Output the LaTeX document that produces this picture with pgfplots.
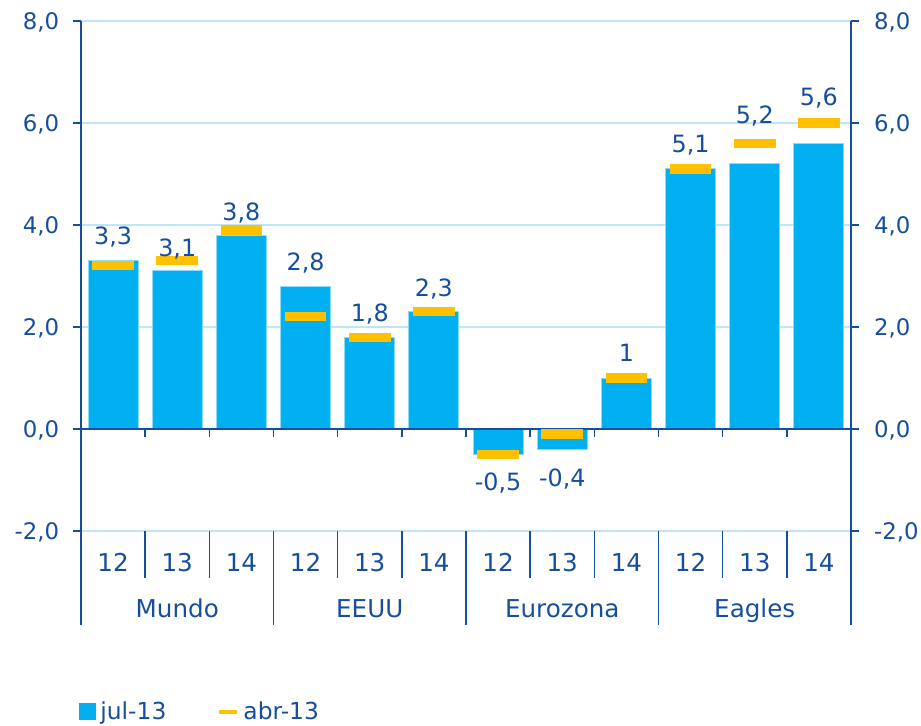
\documentclass[border=0pt]{standalone}
\usepackage{fontspec}
\setmainfont{DejaVu Sans}
\usepackage{pgfplots}
\usepackage{pgfplotstable}
\pgfplotsset{compat=1.18}
\definecolor{dblue}{RGB}{22,78,158}
\definecolor{barblue}{RGB}{0,176,240}
\definecolor{gold}{RGB}{255,192,0}
\definecolor{gridblue}{RGB}{190,230,248}

\pgfplotstableread{
x jul abr
0 3.3 3.2
1 3.1 3.3
2 3.8 3.9
3 2.8 2.2
4 1.8 1.8
5 2.3 2.3
6 -0.5 -0.5
7 -0.4 -0.1
8 1.0 1.0
9 5.1 5.1
10 5.2 5.6
11 5.6 6.0
}\datatable

\pgfplotstableread{
x ypos label
0 3.80 3,3
1 3.56 3,1
2 4.26 3,8
3 3.28 2,8
4 2.29 1,8
5 2.77 2,3
6 -1.04 -0,5
7 -0.95 -0,4
8 1.50 1
9 5.59 5,1
10 6.17 5,2
11 6.52 5,6
}\labeltable

\pgfplotsset{
  common/.style={
    at={(0,0)}, anchor=south west,
    width=385pt, height=255pt, scale only axis,
    xmin=-0.5, xmax=11.5, ymin=-2, ymax=8,
    ytick={-2,0,2,4,6,8},
    axis line style={draw=none},
    tick align=outside,
    major tick length=4pt,
    ytick style={dblue, line width=0.75pt},
    yticklabel style={font=\fontsize{11.4}{13}\selectfont, text=dblue, text depth=0pt},
    /pgf/number format/assume math mode=true,
    /pgf/number format/.cd, fixed, fixed zerofill, precision=1, use comma,
  },
}

\begin{document}
\begin{tikzpicture}
\useasboundingbox (-40.5pt,-97pt) rectangle (420pt,265.5pt);

\begin{axis}[
  common,
  clip=false,
  ytick pos=left,
  yticklabel style={xshift=-3.4pt},
  ymajorgrids,
  grid style={gridblue, line width=1pt},
  xtick={0,...,11},
  xticklabels={12,13,14,12,13,14,12,13,14,12,13,14},
  xtick style={draw=none},
  xtick pos=bottom,
  xticklabel style={font=\fontsize{12.3}{14}\selectfont, text=dblue, anchor=base, yshift=-16.2pt},
  legend columns=2,
  legend style={at={(0,0)}, anchor=south west, xshift=-1pt, yshift=-97.8pt,
    draw=none, fill=none, inner sep=0pt,
    font=\fontsize{11.7}{14}\selectfont, text=dblue,
    /tikz/every even column/.append style={column sep=23.5pt}},
]
\addplot[ybar, bar width=25pt, fill=barblue, draw=barblue!45!white, line width=0.5pt,
  legend image code/.code={\fill[barblue] (0pt,-4pt) rectangle (8pt,4pt);}]
  table[x=x, y=jul] {\datatable};
\addlegendentry{jul-13}
\addplot[only marks, mark=-, mark size=10.4pt, mark options={gold, line width=4.65pt},
  legend image code/.code={\draw[gold, line width=2pt] (1pt,-0.3pt) -- (10pt,-0.3pt);}]
  table[x=x, y=abr] {\datatable};
\addlegendentry{abr-13}

% zero line with small ticks
\draw[dblue, line width=0.85pt] (axis cs:-0.5,0) -- (axis cs:11.5,0);
\pgfplotsinvokeforeach{0.5,1.5,2.5,3.5,4.5,5.5,6.5,7.5,8.5,9.5,10.5}{
  \draw[dblue, line width=0.75pt] (axis cs:#1,0) -- ([yshift=-4pt]axis cs:#1,0);
  \draw[dblue, line width=0.7pt] (axis cs:#1,-2) -- ([yshift=-23.5pt]axis cs:#1,-2);
}
\pgfplotsinvokeforeach{2.5,5.5,8.5}{
  \draw[dblue, line width=0.7pt] (axis cs:#1,-2) -- ([yshift=-47pt]axis cs:#1,-2);
}
\draw[dblue, line width=1.35pt] (axis cs:-0.5,8) -- ([yshift=-47pt]axis cs:-0.5,-2);
\draw[dblue, line width=1.35pt] (axis cs:11.5,8) -- ([yshift=-47pt]axis cs:11.5,-2);

\node[text=dblue, font=\fontsize{12.3}{14}\selectfont, anchor=base] at ([yshift=-43.4pt]axis cs:1,-2) {Mundo};
\node[text=dblue, font=\fontsize{12.3}{14}\selectfont, anchor=base] at ([yshift=-43.4pt]axis cs:4,-2) {EEUU};
\node[text=dblue, font=\fontsize{12.3}{14}\selectfont, anchor=base] at ([yshift=-43.4pt]axis cs:7,-2) {Eurozona};
\node[text=dblue, font=\fontsize{12.3}{14}\selectfont, anchor=base] at ([yshift=-43.4pt]axis cs:10,-2) {Eagles};

\addplot[forget plot, draw=none, mark=none, nodes near coords, point meta=explicit symbolic,
  every node near coord/.append style={anchor=center, text depth=0pt, inner sep=0pt,
    text=dblue, font=\fontsize{11.9}{14}\selectfont}]
  table[x=x, y=ypos, meta=label] {\labeltable};
\end{axis}

\begin{axis}[
  common,
  ytick pos=right,
  yticklabel pos=right,
  yticklabel style={xshift=4.0pt},
  xtick=\empty,
]
\addplot[draw=none] coordinates {(0,0)};
\end{axis}
\end{tikzpicture}
\end{document}
